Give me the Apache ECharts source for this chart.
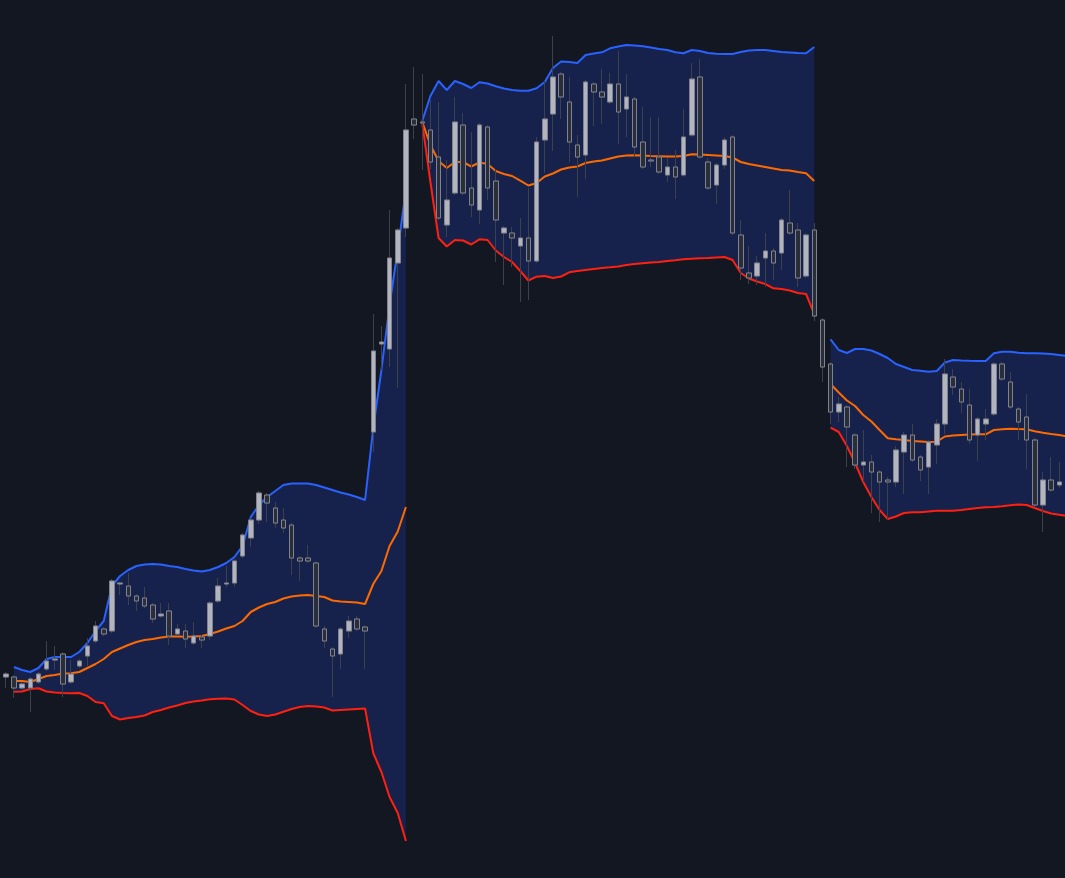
<!DOCTYPE html>
<html>
<head>
<meta charset="utf-8">
<script src="https://cdn.jsdelivr.net/npm/echarts@6.0.0/dist/echarts.min.js"></script>
<style>
html,body{margin:0;padding:0;background:#131722;overflow:hidden;width:1065px;height:878px;}
#chart{position:absolute;left:-7px;top:0;width:1079px;height:878px;}
</style>
</head>
<body>
<div id="chart"></div>
<script>
// OHLC per bar
const open = [201,201,201,190,190,196,209,218,224,196,
212,222,237,249,247,294,292,282,280,273,
262,267,244,247,235,241,242,277,294,295,
322,340,358,383,370,358,353,320,320,315,
249,229,224,247,259,251,446,534,529,615,
650,759,756,748,721,653,685,753,690,668,
751,697,645,645,632,640,617,738,764,804,
776,733,723,794,786,776,794,769,779,736,
718,721,703,711,703,743,801,716,693,713,
741,643,605,602,620,627,625,655,648,602,
648,558,514,466,471,443,413,416,406,398,
396,426,443,421,411,433,454,501,489,473,
443,454,464,514,496,469,461,438,373,398,
393,403];
const close = [219,204,190,194,199,204,217,219,194,204,
217,232,252,244,297,295,282,277,272,259,
264,242,249,239,242,238,275,292,295,317,
343,358,385,375,355,350,320,317,317,252,
237,222,249,257,249,247,527,536,620,648,
748,753,755,716,660,678,756,685,673,753,
690,658,650,640,640,617,736,759,801,781,
736,721,796,786,781,794,766,781,731,711,
717,706,711,701,741,799,721,690,713,738,
645,610,600,615,627,615,658,645,600,643,
562,511,466,474,451,413,416,406,396,396,
428,443,418,408,436,454,504,491,476,438,
459,459,514,499,471,456,438,373,398,388,
396,421];
const low = [198,190,180,188,166,194,207,208,181,194,
210,212,235,242,245,283,273,267,270,255,
260,233,242,230,233,230,238,275,291,291,
320,331,354,356,350,345,303,297,315,250,
230,181,209,240,247,209,426,508,511,490,
641,739,708,709,658,641,683,683,661,654,
678,616,593,611,576,578,615,705,727,759,
716,681,699,752,754,774,734,741,721,709,
711,704,696,679,701,741,719,688,674,709,
643,598,594,593,591,598,608,643,591,600,
557,496,454,456,411,409,396,365,356,358,
391,384,416,397,384,414,444,483,465,434,
417,438,462,497,469,438,409,371,346,386,
390,400];
const high = [223,206,203,196,201,206,237,232,226,218,
219,240,257,251,299,296,305,284,291,275,
275,275,254,254,256,243,277,300,312,319,
345,360,387,385,376,370,355,322,333,317,
252,231,251,262,262,253,564,552,668,650,
794,811,804,778,776,718,781,765,746,755,
753,709,652,651,660,690,741,797,842,806,
801,743,798,796,809,805,827,804,781,771,
761,761,720,728,769,815,819,720,715,741,
743,658,632,622,645,630,660,688,655,645,
655,560,516,481,473,445,448,423,408,401,
432,446,454,423,438,459,519,509,496,489,
461,469,516,516,506,471,484,440,406,421,
416,423];

// Bollinger bands (null = no band value)
const upper = [null,null,211,208,206,210,219,221,221,221,
226,235,247,257,292,302,308,312,313.5,314,
313.5,312,311,309,307.5,306.5,308,311,315,321,
332,361,373,381,387,393,394.5,394.5,394.5,393,
390.5,388,385.5,383.5,381,378,450,508,573,628,
688,null,757,782,797,788,797,794,790,795.7,
794.5,791.7,789.5,788,787.3,787.3,789.7,796,810,816.5,
816,815,823,824.5,825.7,829.7,831.5,833,832.5,831.7,
830.4,829,828,825.7,824.8,828,827,825,824.2,824,
824,826,827.5,828,828,827,826,825.5,825,824.7,
831,null,538.7,528,525,529,529,527.5,524,520,
514,511,508,507.3,506.3,507,515.5,518,517.5,517.2,
517,517,524.7,526.3,526.3,525.2,524.7,524.7,524.4,524,
523,522];
const middle = [null,null,197,197,196,199,202,203,204.5,204.7,
206,210,214,219,226,229.5,233,236,238,239,
240.5,241.5,241.5,241.3,241.5,242,244,246.5,249.5,252,
257,266,270.5,274,276,279.5,281.5,282.5,283,282,
281,277.5,276.5,276,275.5,274,294,307,332,346.5,
371,null,756,733,717,710,716,716,711.5,715.5,
714,707,704,702,697.3,692.5,695,701.5,704.5,708.5,
710.5,711.5,715,716.5,717.5,719.5,721.5,722.5,722.7,722.6,
722,721.7,721.4,721.5,722,723.7,723.4,723,722.5,722,
720.5,716,714,712.5,711,709.5,708,707.5,706,704.8,
697,null,494,485.5,477.5,472,463,456.5,448,439.7,
438.7,438,437,436.5,436,436.3,441.5,442.5,443,443.5,
443.7,443.7,448,448.7,449.3,449,448.8,446.7,445.2,444,
443,441.5];
const lower = [null,null,186.3,186.5,189,189.7,186.5,185.5,185,184.7,
185,182,176,174.7,162,158.5,160,161,162.5,166,
168,170.5,172.5,175,176.5,177.5,178.7,179.3,179.5,178.5,
173,167,163.5,162,163.5,166.3,169,171,172,171.5,
170.5,167.5,168,168.5,169,169.5,125,106,81,65,
37,null,755,696,640,631.5,638,637.5,633.5,638.7,
638,627.5,621,616,607,597.5,601.3,602,600,601.5,
605.7,607,608,609,610,610.7,611.5,613,614,614.7,
615.4,616,617,617.8,618.7,619.2,619.7,620,620.5,621,
618,605,599.5,596.5,594,589.7,589,587.5,585,584,
564,null,450.3,446,432,415,396,381,368,359,
361.5,365,365.7,365.7,366.5,367.3,367.3,367.3,368,369,
370,370.7,371,371.7,372.7,373.5,373,370,367,364.5,
363.2,362];

const categories = open.map((_, i) => 'Bar ' + (i + 1));

const gap = v => (v == null ? '-' : v);
const wickData = open.map((o, i) => [o, close[i], low[i], high[i]]);
const bodyData = open.map((o, i) => [o, close[i], Math.min(o, close[i]), Math.max(o, close[i])]);
const bandSpan = upper.map((u, i) => (u == null || lower[i] == null) ? '-' : +(u - lower[i]).toFixed(2));

const chart = echarts.init(document.getElementById('chart'), null, { renderer: 'canvas' });
chart.setOption({
  backgroundColor: '#131722',
  animation: false,
  grid: { left: 0.5, right: 0.5, top: 0, bottom: 0, outerBoundsMode: 'none' },
  xAxis: { type: 'category', data: categories, boundaryGap: true, show: false },
  yAxis: { type: 'value', min: 0, max: 878, show: false, splitLine: { show: false } },
  series: [
    { name: 'bandBase', type: 'line', data: lower.map(gap), stack: 'band', symbol: 'none',
      lineStyle: { opacity: 0 }, z: 1, silent: true, connectNulls: false },
    { name: 'bandFill', type: 'line', data: bandSpan, stack: 'band', symbol: 'none',
      lineStyle: { opacity: 0 }, areaStyle: { color: '#16224c', opacity: 1 }, z: 1, silent: true, connectNulls: false },
    { name: 'Upper', type: 'line', data: upper.map(gap), symbol: 'none', connectNulls: false,
      lineStyle: { color: '#2962ff', width: 2 }, z: 2 },
    { name: 'Basis', type: 'line', data: middle.map(gap), symbol: 'none', connectNulls: false,
      lineStyle: { color: '#ff6a00', width: 2 }, z: 2 },
    { name: 'Lower', type: 'line', data: lower.map(gap), symbol: 'none', connectNulls: false,
      lineStyle: { color: '#ff2010', width: 2 }, z: 2 },
    { name: 'Wicks', type: 'candlestick', data: wickData, barWidth: 5, z: 3,
      itemStyle: { color: 'rgba(0,0,0,0)', color0: 'rgba(0,0,0,0)', borderColor: '#3d414c', borderColor0: '#3d414c', borderWidth: 1 } },
    { name: 'Bodies', type: 'candlestick', data: bodyData, barWidth: 5, z: 4,
      itemStyle: { color: '#b2b5be', color0: '#2a2e39', borderColor: '#80838d', borderColor0: '#80838d', borderWidth: 1 } }
  ]
});
</script>
</body>
</html>
